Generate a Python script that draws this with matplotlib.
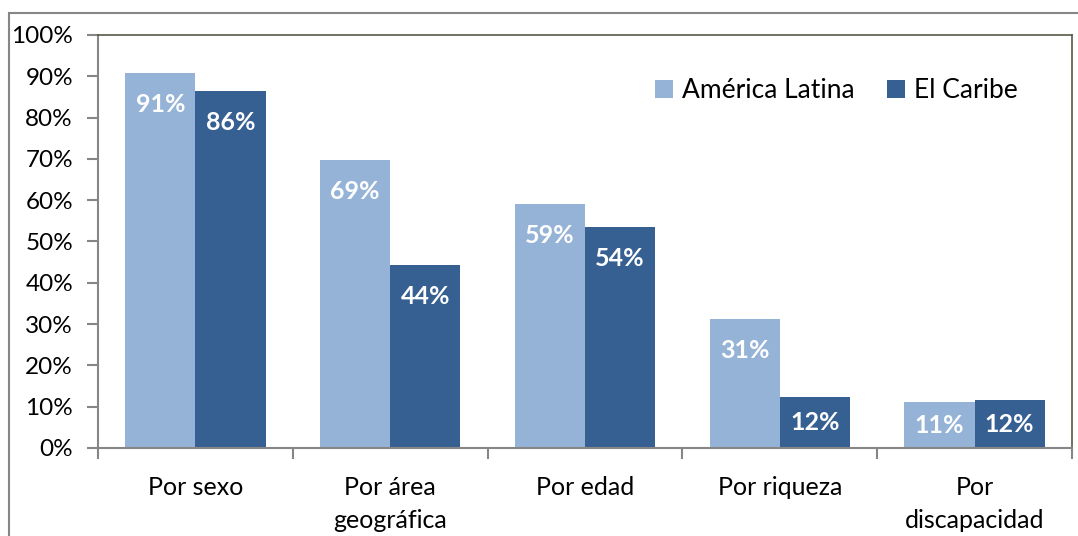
import numpy as np
import matplotlib.pyplot as plt
from matplotlib.patches import Rectangle
from matplotlib.ticker import PercentFormatter

plt.rcParams['font.family'] = ['Lato', 'DejaVu Sans']

# Datos
categorias = ["Por sexo", "Por área\ngeográfica", "Por edad", "Por riqueza", "Por\ndiscapacidad"]
america_latina = [90.7, 69.7, 59.1, 31.2, 11.1]
el_caribe = [86.4, 44.3, 53.5, 12.3, 11.6]
etiquetas_al = ["91%", "69%", "59%", "31%", "11%"]
etiquetas_ec = ["86%", "44%", "54%", "12%", "12%"]

color_al = '#95b3d7'
color_ec = '#376092'
gris = '#868686'

fig = plt.figure(figsize=(10.78, 5.36), dpi=100)
ax = fig.add_axes([98/1078, 88/536, 974/1078, 413/536])

# Marco exterior del gráfico
fig.patches.append(Rectangle((9/1078, -0.1), 1.2, (536-13)/536 + 0.1,
                             transform=fig.transFigure, fill=False,
                             edgecolor=gris, linewidth=1.5))

x = np.arange(len(categorias))
w = 0.36
b1 = ax.bar(x - w/2, america_latina, w, color=color_al, label="América Latina")
b2 = ax.bar(x + w/2, el_caribe, w, color=color_ec, label="El Caribe")

# Etiquetas dentro de las barras
for serie, etiquetas, dx in [(america_latina, etiquetas_al, -w/2), (el_caribe, etiquetas_ec, w/2)]:
    for i, (v, t) in enumerate(zip(serie, etiquetas)):
        y = max(v - 7.6, v / 2)
        ax.text(i + dx, y, t, color='white', fontsize=18, fontweight='bold',
                ha='center', va='center')

ax.set_xlim(-0.5, len(categorias) - 0.5)
ax.set_ylim(0, 100)
ax.set_yticks(np.arange(0, 101, 10))
ax.yaxis.set_major_formatter(PercentFormatter(decimals=0))
ax.set_xticks(x)
ax.set_xticklabels(categorias, fontsize=18, linespacing=1.55)
ax.set_xticks(np.arange(-0.5, len(categorias)), minor=True)
ax.tick_params(axis='x', which='major', length=0, pad=20)
ax.tick_params(axis='x', which='minor', length=8, color=gris, width=1.5)
ax.tick_params(axis='y', length=8, color=gris, width=1.5, labelsize=17.5, pad=10)

for s in ['left', 'bottom']:
    ax.spines[s].set_color(gris)
    ax.spines[s].set_linewidth(1.5)
for s in ['top', 'right']:
    ax.spines[s].set_color('#595947')
    ax.spines[s].set_linewidth(1.2)

ax.legend(loc='center right', bbox_to_anchor=(0.969, 0.865), ncol=2, frameon=False,
          fontsize=19, handlelength=0.7, handleheight=0.7, handletextpad=0.35,
          columnspacing=1.2)

fig.savefig('out.png', dpi=100)
